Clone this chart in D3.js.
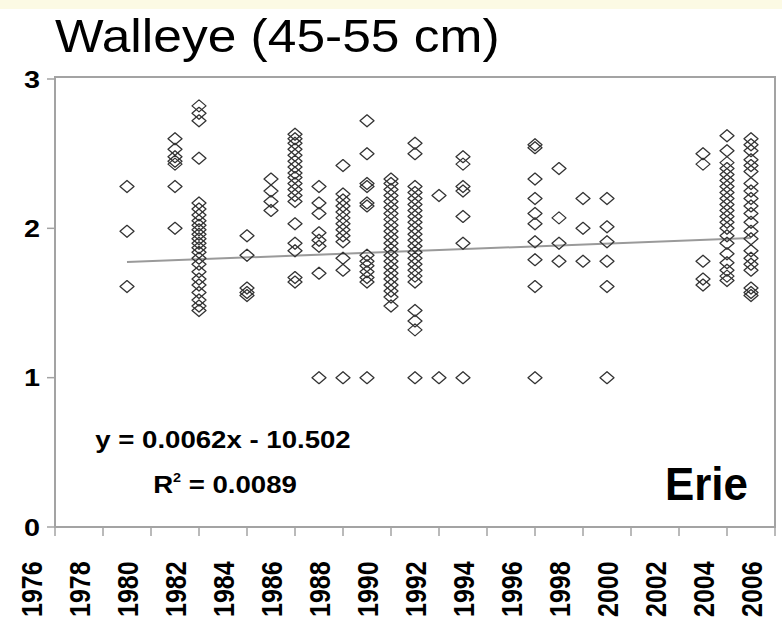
<!DOCTYPE html>
<html>
<head>
<meta charset="utf-8">
<script src="https://cdn.jsdelivr.net/npm/d3@7"></script>
<style>
  body { margin: 0; background: #ffffff; }
  text { font-family: "Liberation Sans", Arial, sans-serif; fill: #000; }
</style>
</head>
<body>
<div id="scatter"></div>
<script>
var years = [1980, 1982, 1983, 1985, 1986, 1987, 1988, 1989, 1990, 1991,
             1992, 1993, 1994, 1997, 1998, 1999, 2000, 2004, 2005, 2006];

var values = [
  [2.28, 1.98, 1.61],
  [2.60, 2.53, 2.48, 2.45, 2.43, 2.28, 2.00],
  [2.82, 2.77, 2.72, 2.47, 2.17, 2.13, 2.09, 2.05, 2.02, 1.99, 1.96, 1.93, 1.90, 1.87, 1.84, 1.80, 1.76, 1.71, 1.66, 1.62, 1.57, 1.52, 1.48, 1.45],
  [1.95, 1.82, 1.60, 1.57, 1.55],
  [2.33, 2.25, 2.18, 2.12],
  [2.63, 2.60, 2.57, 2.53, 2.49, 2.45, 2.41, 2.37, 2.34, 2.30, 2.26, 2.22, 2.18, 2.03, 1.90, 1.85, 1.67, 1.64],
  [2.28, 2.17, 2.10, 1.97, 1.92, 1.88, 1.70, 1.00],
  [2.42, 2.23, 2.19, 2.15, 2.11, 2.07, 2.03, 1.99, 1.95, 1.91, 1.80, 1.72, 1.00],
  [2.72, 2.50, 2.30, 2.28, 2.17, 2.15, 1.82, 1.78, 1.75, 1.71, 1.67, 1.64, 1.00],
  [2.33, 2.30, 2.26, 2.22, 2.18, 2.14, 2.10, 2.06, 2.02, 1.98, 1.94, 1.90, 1.86, 1.82, 1.78, 1.74, 1.70, 1.66, 1.62, 1.58, 1.54, 1.48],
  [2.57, 2.50, 2.28, 2.24, 2.20, 2.16, 2.12, 2.08, 2.04, 2.00, 1.96, 1.92, 1.88, 1.84, 1.80, 1.76, 1.72, 1.68, 1.64, 1.45, 1.38, 1.32, 1.00],
  [2.22, 1.00],
  [2.48, 2.43, 2.28, 2.25, 2.08, 1.90, 1.00],
  [2.56, 2.54, 2.33, 2.20, 2.10, 2.03, 1.91, 1.79, 1.61, 1.00],
  [2.40, 2.07, 1.90, 1.78],
  [2.20, 2.00, 1.78],
  [2.20, 2.01, 1.91, 1.78, 1.61, 1.00],
  [2.50, 2.43, 1.78, 1.66, 1.62],
  [2.62, 2.52, 2.44, 2.40, 2.36, 2.32, 2.28, 2.24, 2.20, 2.16, 2.12, 2.08, 2.04, 2.00, 1.95, 1.90, 1.83, 1.77, 1.72, 1.68, 1.65],
  [2.60, 2.56, 2.52, 2.46, 2.42, 2.38, 2.30, 2.25, 2.20, 2.15, 2.10, 2.04, 1.98, 1.93, 1.85, 1.80, 1.76, 1.72, 1.60, 1.57, 1.55]
];

// Axis labels
var xLabels = [1976, 1978, 1980, 1982, 1984, 1986, 1988, 1990, 1992, 1994, 1996, 1998, 2000, 2002, 2004, 2006];
var xTickYears = [1977, 1979, 1981, 1983, 1985, 1987, 1989, 1991, 1993, 1995, 1997, 1999, 2001, 2003, 2005, 2007];
var yLabels = [0, 1, 2, 3];

// Trendline as printed on the chart
var slope = 0.0062;
var intercept = -10.502;
var trendYears = [1980, 2006];

var svgWidth = 782;
var svgHeight = 624;

var plot = { left: 55, right: 775, top: 77, bottom: 527 };

var svg = d3.select("#scatter")
  .append("svg")
  .attr("width", svgWidth)
  .attr("height", svgHeight);

// pale strip along the top edge
svg.append("rect")
  .attr("width", svgWidth)
  .attr("height", 9)
  .attr("fill", "#fcfae4");

// Step 1: scales
var xScale = d3.scaleLinear()
  .domain([1977, 2007])
  .range([plot.left, plot.right]);

var yScale = d3.scaleLinear()
  .domain([0, 3])
  .range([plot.bottom, 79]);

// Step 2: frame and ticks
var frameColor = "#a3a3a3";

svg.append("rect")
  .attr("x", plot.left)
  .attr("y", plot.top)
  .attr("width", plot.right - plot.left)
  .attr("height", plot.bottom - plot.top)
  .attr("fill", "none")
  .attr("stroke", frameColor)
  .attr("stroke-width", 2);

svg.append("g")
  .selectAll("line")
  .data(xTickYears)
  .enter()
  .append("line")
  .attr("x1", d => xScale(d))
  .attr("x2", d => xScale(d))
  .attr("y1", plot.bottom)
  .attr("y2", plot.bottom + 9)
  .attr("stroke", frameColor)
  .attr("stroke-width", 1.5);

svg.append("g")
  .selectAll("line")
  .data(yLabels)
  .enter()
  .append("line")
  .attr("x1", plot.left - 8)
  .attr("x2", plot.left)
  .attr("y1", d => yScale(d))
  .attr("y2", d => yScale(d))
  .attr("stroke", frameColor)
  .attr("stroke-width", 1.5);

// Step 3: tick labels (slightly stretched sideways, like the original)
svg.append("g")
  .selectAll("text")
  .data(yLabels)
  .enter()
  .append("text")
  .attr("transform", d => `translate(40, ${yScale(d)}) scale(1.2, 1)`)
  .attr("dy", "0.36em")
  .attr("text-anchor", "end")
  .attr("font-size", "24px")
  .attr("font-weight", "bold")
  .text(d => d);

svg.append("g")
  .selectAll("text")
  .data(xLabels)
  .enter()
  .append("text")
  .attr("transform", d => `translate(${xScale(d)}, 617) scale(1.2, 1) rotate(-90)`)
  .attr("dy", "0.36em")
  .attr("text-anchor", "start")
  .attr("font-size", "25px")
  .attr("font-weight", "bold")
  .text(d => d);

// Step 4: trendline
var line = d3.line()
  .x(d => xScale(d))
  .y(d => yScale(slope * d + intercept));

svg.append("path")
  .datum(trendYears)
  .attr("d", line)
  .attr("fill", "none")
  .attr("stroke", "#9a9a9a")
  .attr("stroke-width", 2);

// Step 5: diamond markers
var points = [];
years.forEach(function(yr, i) {
  values[i].forEach(function(v) {
    points.push({ year: yr, value: v });
  });
});

svg.append("g")
  .selectAll("path")
  .data(points)
  .enter()
  .append("path")
  .attr("transform", d => `translate(${xScale(d.year)}, ${yScale(d.value)})`)
  .attr("d", "M0,-6L7,0L0,6L-7,0Z")
  .attr("fill", "none")
  .attr("stroke", "#333")
  .attr("stroke-width", 1.3)
  .attr("stroke-linejoin", "round");

// Step 6: title and annotations
svg.append("text")
  .attr("transform", "translate(55, 52) scale(1.12, 1)")
  .attr("font-size", "46px")
  .text("Walleye (45-55 cm)");

svg.append("text")
  .attr("transform", "translate(223, 448) scale(1.2, 1)")
  .attr("text-anchor", "middle")
  .attr("font-size", "23px")
  .attr("font-weight", "bold")
  .text("y = 0.0062x - 10.502");

var r2 = svg.append("text")
  .attr("transform", "translate(225, 493) scale(1.2, 1)")
  .attr("text-anchor", "middle")
  .attr("font-size", "23px")
  .attr("font-weight", "bold");
r2.append("tspan").text("R");
r2.append("tspan").attr("font-size", "12px").attr("dy", "-11").text("2");
r2.append("tspan").attr("dy", "11").text(" = 0.0089");

svg.append("text")
  .attr("x", 665)
  .attr("y", 500)
  .attr("font-size", "46px")
  .attr("font-weight", "bold")
  .attr("textLength", 83)
  .attr("lengthAdjust", "spacingAndGlyphs")
  .text("Erie");
</script>
</body>
</html>
